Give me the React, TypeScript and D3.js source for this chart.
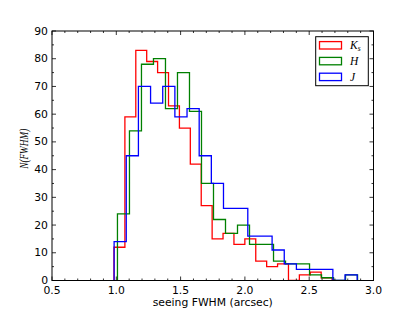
import React from 'react';
import * as d3 from 'd3';

const W = 415;
const H = 312;
const margin = { left: 52, right: 41.5, top: 31, bottom: 31.5 };

// histogram counts (20 equal bins per band)
const ksCounts = [12, 59, 83, 79, 75, 63, 55, 42, 27, 15, 17, 13, 15, 7, 5, 6, 0, 2, 3, 1];
const hCounts = [24, 54, 78, 80, 62, 75, 61, 35, 22, 17, 20, 13, 13, 7, 6, 6, 2, 1, 0, 2];
const jCounts = [14, 45, 70, 64, 70, 59, 62, 45, 35, 26, 26, 16, 16, 11, 6, 4, 4, 4, 0, 2];

// bin range (min, max) of each band
const ksRange = [0.982, 2.678];
const hRange = [1.009, 2.876];
const jRange = [0.983, 2.873];

const xTicks = [0.5, 1.0, 1.5, 2.0, 2.5, 3.0];
const yTicks = [0, 10, 20, 30, 40, 50, 60, 70, 80, 90];

const series = [
  { key: 'Ks', counts: ksCounts, range: ksRange, color: '#ff0000' },
  { key: 'H', counts: hCounts, range: hRange, color: '#008000' },
  { key: 'J', counts: jCounts, range: jRange, color: '#0000ff' },
];

export default function App() {
  const x = d3.scaleLinear().domain([0.5, 3.0]).range([margin.left, W - margin.right]);
  const y = d3.scaleLinear().domain([0, 90]).range([H - margin.bottom, margin.top]);

  const x0 = x.range()[0], x1 = x.range()[1];
  const y0 = y.range()[0], y1 = y.range()[1];

  const stepLine = d3.line<[number, number]>().x(d => x(d[0])).y(d => y(d[1]));

  function stepPath(counts: number[], range: number[]) {
    const n = counts.length;
    const edges = d3.range(n + 1).map(i => range[0] + (i * (range[1] - range[0])) / n);
    const pts: [number, number][] = [[edges[0], 0]];
    counts.forEach((c, i) => {
      pts.push([edges[i], c]);
      pts.push([edges[i + 1], c]);
    });
    pts.push([edges[n], 0]);
    return stepLine(pts) as string;
  }

  const xMinor = d3.range(0.5, 3.0001, 0.1).filter(v => !xTicks.some(t => Math.abs(t - v) < 1e-6));
  const yMinor = d3.range(5, 90, 10);

  const font = 'DejaVu Sans, sans-serif';
  const mathFont = 'Liberation Serif, DejaVu Serif, serif';

  return (
    <svg width={W} height={H} style={{ position: 'absolute', left: 0, top: 0, background: '#fff' }}>
      <rect x={0} y={0} width={W} height={H} fill="#fff" />
      <defs>
        <clipPath id="plot">
          <rect x={x0} y={y1} width={x1 - x0} height={y0 - y1} />
        </clipPath>
      </defs>

      <g clipPath="url(#plot)">
        {series.map(s => (
          <path key={s.key} d={stepPath(s.counts, s.range)} fill="none" stroke={s.color} strokeWidth={1.3} />
        ))}
      </g>

      {/* ticks, pointing inward on all four sides */}
      <g stroke="#000" strokeWidth={0.8}>
        {xTicks.map(t => (
          <g key={'xt' + t}>
            <line x1={x(t)} x2={x(t)} y1={y0} y2={y0 - 4} />
            <line x1={x(t)} x2={x(t)} y1={y1} y2={y1 + 4} />
          </g>
        ))}
        {xMinor.map(t => (
          <g key={'xm' + t}>
            <line x1={x(t)} x2={x(t)} y1={y0} y2={y0 - 2} />
            <line x1={x(t)} x2={x(t)} y1={y1} y2={y1 + 2} />
          </g>
        ))}
        {yTicks.map(t => (
          <g key={'yt' + t}>
            <line x1={x0} x2={x0 + 4} y1={y(t)} y2={y(t)} />
            <line x1={x1} x2={x1 - 4} y1={y(t)} y2={y(t)} />
          </g>
        ))}
        {yMinor.map(t => (
          <g key={'ym' + t}>
            <line x1={x0} x2={x0 + 2} y1={y(t)} y2={y(t)} />
            <line x1={x1} x2={x1 - 2} y1={y(t)} y2={y(t)} />
          </g>
        ))}
      </g>

      <rect x={x0} y={y1} width={x1 - x0} height={y0 - y1} fill="none" stroke="#000" strokeWidth={1} />

      <g fontFamily={font} fontSize={10.8} fill="#000">
        {xTicks.map(t => (
          <text key={'xl' + t} x={x(t)} y={y0 + 13} textAnchor="middle">{t.toFixed(1)}</text>
        ))}
        {yTicks.map(t => (
          <text key={'yl' + t} x={x0 - 4} y={y(t)} textAnchor="end" dominantBaseline="central">{t}</text>
        ))}
        <text x={(x0 + x1) / 2} y={H - 6} textAnchor="middle">seeing FWHM (arcsec)</text>
      </g>

      <text
        transform={`translate(28,${(y0 + y1) / 2 - 7}) rotate(-90)`}
        textAnchor="middle"
        fontFamily={mathFont}
        fontStyle="italic"
        fontSize={12.5}
        textLength={40}
        lengthAdjust="spacingAndGlyphs"
      >
        N(FWHM)
      </text>

      {/* legend */}
      <g>
        <rect x={315.7} y={36.7} width={52.6} height={49} fill="#fff" stroke="#000" strokeWidth={1} />
        {series.map((s, i) => {
          const cy = 45.3 + i * 15.8;
          return (
            <g key={'lg' + s.key}>
              <rect x={319.5} y={cy - 3.7} width={22} height={7.4} fill="none" stroke={s.color} strokeWidth={1.3} />
              <text x={350} y={cy} dominantBaseline="central" fontFamily={mathFont} fontStyle="italic" fontSize={11.5}>
                {s.key === 'Ks' ? (
                  <>
                    K<tspan fontSize={7.5} dy={2.5}>s</tspan>
                  </>
                ) : (
                  s.key
                )}
              </text>
            </g>
          );
        })}
      </g>
    </svg>
  );
}
